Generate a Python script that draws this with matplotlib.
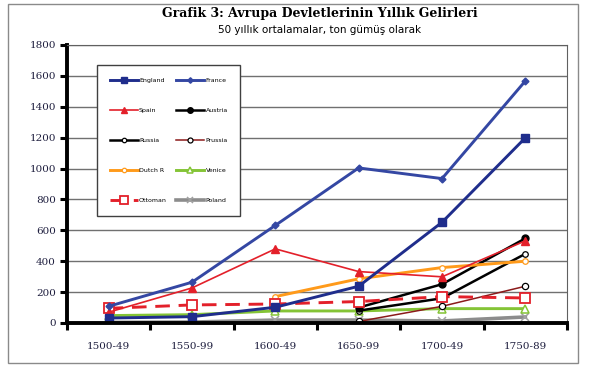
import numpy as np
import matplotlib.pyplot as plt
from matplotlib.patches import Rectangle

periods = ['1500-49', '1550-99', '1600-49', '1650-99', '1700-49', '1750-89']
nan = np.nan

england = [32, 41, 102, 238, 652, 1199]
france = [108, 264, 632, 1004, 935, 1567]
spain = [70, 227, 480, 333, 299, 532]
austria = [nan, nan, nan, 100, 251, 548]
russia = [nan, nan, nan, 80, 160, 448]
prussia = [nan, nan, nan, 10, 108, 238]
dutch = [nan, nan, 171, 286, 359, 400]
venice = [48, 54, 78, 78, 93, 93]
ottoman = [95, 117, 123, 139, 171, 162]
poland = [4, 6, 19, 19, 13, 39]

fig = plt.figure(figsize=(5.93, 3.67), dpi=100)
ax = fig.add_axes([67/593, 1-323/367, 500/593, 278/367])

x = np.arange(len(periods))
h = {}
h['Poland'], = ax.plot(x, poland, color='#8c8c8c', lw=2.6, marker='x', ms=5.5, mew=1.1, mec='#a0a0a0')
h['Venice'], = ax.plot(x, venice, color='#84c436', lw=2.1, marker='^', ms=5.5, mfc='white', mec='#84c436', mew=1.1)
h['Prussia'], = ax.plot(x, prussia, color='#8b1a1a', lw=1.1, marker='o', ms=4.5, mfc='white', mec='black', mew=0.9)
h['Russia'], = ax.plot(x, russia, color='black', lw=1.8, marker='o', ms=4, mfc='white', mec='black', mew=0.9)
h['Austria'], = ax.plot(x, austria, color='black', lw=1.8, marker='o', ms=5)
h['Dutch R'], = ax.plot(x, dutch, color='#ff9a1a', lw=2.1, marker='o', ms=4, mfc='white', mec='#ff9a1a', mew=0.9)
h['Ottoman'], = ax.plot(x, ottoman, color='#e3202a', lw=2.1, ls=(0, (5, 3)), marker='s', ms=7, mfc='white', mec='#e3202a', mew=1.3)
h['Spain'], = ax.plot(x, spain, color='#e3202a', lw=1.2, marker='^', ms=5.5)
h['England'], = ax.plot(x, england, color='#1f2d8c', lw=2.1, marker='s', ms=5.5)
h['France'], = ax.plot(x, france, color='#3447a3', lw=2.1, marker='D', ms=3.5)

ax.set_xlim(-0.5, 5.5)
ax.set_ylim(0, 1800)
ax.set_yticks(np.arange(0, 1801, 200))
ax.set_xticks(np.arange(-0.5, 5.6, 1))
ax.set_xticklabels([])
ax.set_xticks(x, minor=True)
ax.set_xticklabels(periods, minor=True)
ax.tick_params(axis='x', which='minor', length=0, pad=14, labelsize=7.5, labelcolor='#1f1f3f')
ax.tick_params(axis='x', which='major', direction='out', length=5, width=2.2)
ax.tick_params(axis='y', direction='out', length=5, width=2.2, labelsize=7.5, labelcolor='#1f1f3f', pad=3)
for t in ax.get_xticklabels(minor=True) + ax.get_yticklabels():
    t.set_family('DejaVu Serif')
ax.grid(axis='y', color='#707070', lw=1)
ax.set_axisbelow(True)
ax.spines['left'].set_linewidth(2.8)
ax.spines['bottom'].set_linewidth(2.8)
ax.spines['top'].set_color('#606060')
ax.spines['right'].set_color('#606060')

order = ['England', 'Spain', 'Russia', 'Dutch R', 'Ottoman',
         'France', 'Austria', 'Prussia', 'Venice', 'Poland']
leg = ax.legend([h[k] for k in order], order, ncol=2, loc='upper left',
                bbox_to_anchor=(30/500, 258/278), fontsize=4.5, frameon=True,
                fancybox=False, edgecolor='#404040', handlelength=4.5,
                labelspacing=3.95, columnspacing=1.5, handletextpad=0.2,
                borderpad=2.0, borderaxespad=0, markerscale=0.8)
leg.get_frame().set_linewidth(1)
leg.get_frame().set_alpha(1)

fig.text(320/593, 1-13/367, 'Grafik 3: Avrupa Devletlerinin Yıllık Gelirleri',
         ha='center', va='center', fontsize=9, fontweight='bold', family='DejaVu Serif')
fig.text(320/593, 1-30/367, '50 yıllık ortalamalar, ton gümüş olarak',
         ha='center', va='center', fontsize=7.5, family='DejaVu Sans')
fig.patches.append(Rectangle((8/593, 4/367), 570/593, 359/367, transform=fig.transFigure,
                             fill=False, edgecolor='#8a8a8a', lw=1))

fig.savefig('out.png', dpi=100)
